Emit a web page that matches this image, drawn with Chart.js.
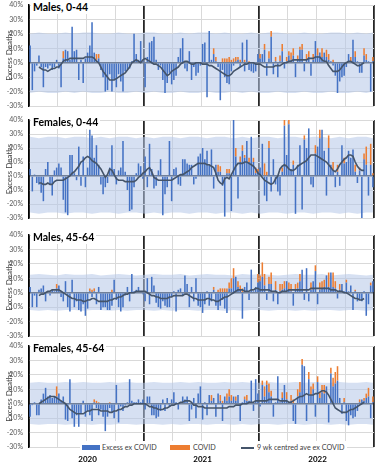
<!DOCTYPE html>
<html>
<head>
<meta charset="utf-8">
<script src="https://cdn.jsdelivr.net/npm/chart.js@4.4.1/dist/chart.umd.min.js"></script>
<style>
  html, body { margin: 0; padding: 0; background: #fff; }
  #wrap { position: relative; width: 381px; height: 476px; overflow: hidden; font-family: Lato, 'Liberation Sans', sans-serif; }
  canvas { position: absolute; left: 0; }
  .ttl { position: absolute; left: 31px; font-weight: 700; font-size: 10.5px; line-height: 11px; background: #fff; padding: 1px 2px; color: #000; }
  .legend { position: absolute; left: 80px; top: 441px; width: 267px; height: 12px; background: #fff; font-size: 7.2px; color: #404040; }
  .legend span { position: absolute; white-space: nowrap; line-height: 10px; }
</style>
</head>
<body>
<div id="wrap">
  <canvas id="p1" width="381" height="112" style="top:0"></canvas>
  <canvas id="p2" width="381" height="110" style="top:114px"></canvas>
  <canvas id="p3" width="381" height="113" style="top:229px"></canvas>
  <canvas id="p4" width="381" height="136" style="top:340px"></canvas>
  <div class="ttl" style="top:1px">Males, 0-44</div>
  <div class="ttl" style="top:116px">Females, 0-44</div>
  <div class="ttl" style="top:231px">Males, 45-64</div>
  <div class="ttl" style="top:342px">Females, 45-64</div>
  <div class="legend">
    <span style="left:2px;top:4px;width:18px;height:5px;background:#4472C4"></span>
    <span style="left:22px;top:1.5px">Excess ex COVID</span>
    <span style="left:90px;top:4px;width:20px;height:5px;background:#ED7D31"></span>
    <span style="left:113px;top:1.5px">COVID</span>
    <span style="left:161px;top:6px;width:13px;height:1.6px;background:#44546A"></span>
    <span style="left:177px;top:1.5px">9 wk centred ave ex COVID</span>
  </div>
</div>
<script>
const n = null;
const yearLabels = ['2020', '2021', '2022'];

// weekly excess deaths ex COVID, % (2020 W1 .. 2022 W52)
const m044Ex = [
  12,-19,-6,-2,5,-3,-17,-3,-4,-2, -5,-3,2,-4,-17,3,9,8,2,25, 8,9,-12,2,-14,3,7,12,28,7, 2,3,-5,-10,-20,-19,-8,-20,-12,-17, -8,-13,-20,-6,-5,-4,1,20,6,2, 15,1,
  -17,4,14,15,18,2,-5,-2,-12,-21, -14,-7,-15,-12,-9,4,10,17,-4,-6, 8,-12,-3,-9,-7,-2,13,14,-24,22, 2,6,1,-3,-26,-5,-10,-14,-15,-6, -2,1,2,-3,14,-6,16,-5,-6,-7, -6,6,
  3,6,9,-9,3,18,-8,1,-10,1, 8,-4,1,5,2,5,-10,2,9,9, -6,2,4,-9,2,15,5,7,4,7, 4,2,1,-2,-9,-21,-13,-10,-9,-3, 6,1,16,4,1,-7,-7,5,2,1, -20,1
];
const m044Covid = [
  0,0,0,0,0,0,0,0,0,0, 0,0,0,0,0,5,0,0,0,0, 0,0,0,0,0,0,0,0,0,0, 4,3,0,0,0,0,0,0,0,0, 0,0,0,0,0,0,0,0,0,0, 0,0,
  0,0,0,0,0,0,0,0,0,0, 0,0,0,0,0,0,0,0,0,0, 0,0,0,0,0,0,0,0,0,0, 0,4,3,0,0,3,3,3,4,2, 3,3,2,2,0,2,0,1,0,0, 0,0,
  3,0,4,0,5,4,0,3,0,4, 5,0,3,3,5,5,0,3,2,4, 0,4,4,0,4,0,5,0,6,0, 5,4,0,2,0,0,0,0,0,0, 0,3,0,4,0,0,0,5,4,0, 0,3
];
const m044Avg = [
  n,n,n,n,-3,-4,-5,-5,-6,-5, -4,-4,-3,-3,-1,1,2,2,3,3, 3,3,3,3,3,4,4,4,4,3, 1,0,-3,-6,-8,-10,-12,-12,-12,-11, -10,-9,-8,-7,-5,-3,0,1,2,1, 0,2,
  3,2,1,0,-1,-1,-2,-3,-5,-7, -9,-8,-6,-5,-4,-3,-1,0,1,1, 0,-1,-1,0,0,0,-1,-1,-1,-2, -2,-3,-4,-5,-6,-7,-8,-9,-9,-8, -6,-5,-4,-3,-2,-1,-1,0,0,0, -1,-1,
  -1,-2,-3,-3,-3,-3,-3,-2,-2,-2, -1,0,0,1,1,2,2,2,2,2, 2,2,3,3,3,4,4,4,2,1, 1,-2,-4,-6,-6,-6,-5,-3,-1,0, 1,1,0,-1,-2,-2,-1,0,n,n, n,n
];

const f044Ex = [
  5,-11,1,-5,-6,-12,-18,5,10,-6, -14,4,6,9,6,-17,-26,-28,15,15, 2,-3,21,-7,14,-8,6,33,29,13, 22,8,-6,-13,-8,-5,6,22,5,-6, 4,6,25,3,-10,-25,-24,-8,2,9, 7,-2,
  14,-8,23,5,-9,-7,4,12,-28,-13, -8,25,-18,5,6,-6,-7,12,12,9, 8,8,-6,-2,14,16,20,12,18,8, 19,-9,8,3,3,-7,-29,2,2,-25, 40,14,-16,10,18,13,25,10,28,10, 2,3,
  6,23,-14,-18,20,-11,12,-6,-11,-14, 3,36,15,37,5,8,-27,8,22,-24, 26,20,34,-6,-8,16,21,27,33,18, -14,20,8,4,-8,3,-7,22,9,10, 18,13,19,3,-5,4,-31,12,8,-14, 8,-8
];
const f044Covid = [
  0,0,0,0,0,0,0,0,0,0, 0,0,0,0,0,0,0,0,0,0, 0,0,0,0,0,0,0,0,0,0, 0,0,0,0,0,0,0,0,0,0, 0,0,0,0,0,0,0,0,0,0, 0,0,
  0,0,0,0,0,0,0,0,0,0, 0,0,0,0,0,0,0,0,0,0, 0,0,0,0,0,0,0,0,0,0, 0,0,0,5,4,0,0,3,3,0, 0,6,0,4,4,2,0,3,0,3, 4,2,
  0,0,9,3,5,0,0,0,0,0, 3,4,0,4,0,3,0,0,0,0, 3,0,0,0,0,6,0,6,0,0, 0,9,0,6,0,5,0,0,4,0, 0,0,0,5,0,2,0,4,13,0, 15,2
];
const f044Avg = [
  n,n,n,n,-5,-5,-6,-6,-5,-6, -6,-4,-3,-3,-3,-3,-2,-1,0,2, 3,5,7,10,11,13,14,13,11,10, 9,7,5,2,-1,1,5,4,1,-2, -3,-3,-3,-4,-4,-4,-4,-4,-3,-1, 0,2,
  3,5,6,3,-1,-2,-3,-3,-3,-3, -3,-3,-3,-2,-1,0,1,1,2,3, 4,6,7,8,9,9,9,9,8,8, 7,6,2,-3,-5,-6,-2,-1,-2,1, 4,7,9,9,9,10,10,9,8,7, 5,2,
  1,-1,-3,-4,-5,-6,-5,-2,0,5, 7,8,7,5,4,4,5,7,8,9, 10,11,13,15,15,15,14,13,12,11, 10,8,6,4,3,5,8,10,12,13, 15,15,14,10,7,5,4,4,n,n, n,n
];

const m4564Ex = [
  4,-10,-2,-10,2,3,5,-6,1,-2, 2,1,3,5,-3,-6,8,-10,-13,9, -10,-6,-12,-13,-8,-16,-11,1,-3,1, -8,4,-12,-10,-10,-12,-12,-9,9,-5, -10,-13,-10,-2,4,-6,13,1,2,4, 1,-1,
  -6,10,-8,11,5,-7,-10,-11,-6,-9, -10,-10,-3,1,-13,2,3,-2,12,6, -10,4,-6,10,-9,-10,-14,-8,1,-9, -6,2,-9,-12,-9,-5,-11,-14,3,3, 10,11,4,2,-18,4,7,-5,16,1, 4,7,
  8,11,5,-5,6,6,-6,2,-8,1, 2,3,8,2,1,-9,2,3,8,16, -5,17,-6,2,8,15,-8,2,3,4, 12,4,14,4,3,-4,2,6,1,7, 1,5,-12,1,-6,-5,-6,1,-16,-8, 5,8
];
const m4564Covid = [
  0,0,0,0,0,0,0,0,0,0, 0,0,3,0,0,0,0,0,0,0, 0,0,0,0,0,0,0,2,2,2, 0,0,0,0,0,0,0,2,0,0, 0,0,0,0,0,0,0,0,0,0, 0,0,
  0,0,0,0,0,0,0,0,0,0, 0,0,0,0,0,0,0,0,0,0, 0,0,0,0,0,0,0,0,0,0, 0,2,0,2,3,3,3,3,4,7, 7,0,4,3,3,0,0,0,0,0, 0,6,
  4,10,8,0,5,8,0,6,0,5, 4,5,0,5,5,0,4,4,5,0, 0,0,0,5,0,4,0,5,5,5, 0,10,0,10,5,0,4,0,0,2, 0,0,0,1,0,0,0,0,0,0, 2,0
];
const m4564Avg = [
  n,n,n,n,-2,-1,-1,0,1,1, 2,2,2,2,1,0,-1,-2,-3,-4, -4,-5,-5,-5,-6,-6,-5,-5,-4,-4, -5,-6,-6,-6,-6,-6,-5,-5,-4,-4, -3,-3,-2,-1,-1,0,0,0,1,1, 1,1,
  1,0,-1,-2,-2,-3,-3,-4,-4,-4, -4,-3,-3,-2,-2,-2,-2,-2,-1,-1, -2,-3,-4,-4,-5,-5,-5,-5,-4,-4, -5,-5,-6,-6,-5,-4,-3,-3,-2,-1, 0,1,2,2,2,1,1,1,2,2, 3,3,
  2,2,2,2,2,1,1,1,0,0, 1,1,1,2,2,2,2,2,2,2, 2,2,2,3,3,3,3,3,3,3, 3,3,2,2,2,1,1,1,0,0, -1,-2,-3,-4,-4,-5,-5,-4,n,n, n,n
];

const f4564Ex = [
  -9,-1,1,-8,-8,3,7,11,5,6, 4,5,5,7,2,5,-11,-12,17,-10, -16,-8,-16,-7,2,-9,-5,-8,-12,1, -3,-8,-4,-9,-19,-9,-3,-6,-10,13, -13,-2,-5,-1,1,17,2,1,1,3, 1,3,
  -4,5,5,-8,-8,-10,-9,-5,3,-5, 4,-2,3,8,1,-4,1,5,3,5, -12,-4,4,-10,7,12,-11,1,-8,6, 2,4,-9,7,2,-12,5,2,5,2, 5,2,6,-12,1,3,2,2,16,-5, 17,7,
  -2,13,5,13,8,5,-9,1,19,1, 4,13,3,1,2,-12,-14,5,8,27, 26,-12,17,6,10,-9,15,4,8,7, 12,-13,21,12,14,16,4,-7,1,-12, -15,-8,-10,-9,-5,1,3,2,4,5, -10,1
];
const f4564Covid = [
  0,0,0,0,0,0,0,0,0,0, 0,0,7,0,0,0,0,0,0,0, 0,0,0,0,0,0,0,0,0,2, 2,1,0,0,0,0,1,0,0,0, 0,0,0,0,0,0,0,0,0,0, 0,0,
  0,0,0,0,0,0,0,0,0,0, 0,0,0,0,0,0,0,0,0,0, 0,0,0,0,0,0,0,0,0,0, 4,0,0,0,4,2,0,5,5,4, 0,3,0,0,0,2,4,0,0,0, 0,0,
  0,3,7,3,6,4,0,0,0,0, 4,0,5,0,4,3,0,5,7,4, 0,0,5,6,4,0,4,4,5,6, 0,0,4,6,8,10,0,0,3,0, 0,0,0,0,0,2,0,2,3,6, 0,4
];
const f4564Avg = [
  n,n,n,n,0,1,2,3,4,5, 5,5,4,3,2,1,0,-2,-4,-5, -6,-7,-7,-7,-7,-6,-5,-5,-4,-4, -4,-4,-5,-5,-5,-5,-6,-6,-5,-5, -4,-4,-3,-2,-2,-1,-1,0,0,0, 0,0,
  0,-1,-2,-2,-3,-3,-4,-4,-4,-3, -3,-2,-1,-1,0,0,1,1,2,2, 2,1,-1,-1,-2,-2,-2,-3,-3,-3, -3,-3,-3,-3,-3,-3,-3,-3,-2,-2, -2,-1,-1,-1,0,0,0,1,1,1, 2,2,
  2,2,2,2,3,3,3,3,3,2, 2,2,2,1,1,2,3,4,5,5, 6,7,6,6,6,7,7,8,9,9, 8,6,3,0,-3,-4,-5,-6,-6,-6, -5,-4,-4,-3,-2,-1,0,1,n,n, n,n
];

// expected range band, read every 4th week (plus the last week)
const m044Hi = [20,21,20,20,21,20,21,21,20,20,21,20,20,21,21,20,20,21,20,21,21,20,21,20,20,21,20,21,21,20,20,21,20,20,21,21,20,21,20,21];
const m044Lo = [-21,-20,-21,-21,-20,-21,-20,-21,-21,-20,-21,-21,-20,-21,-20,-21,-21,-20,-21,-21,-20,-21,-21,-20,-21,-20,-21,-21,-20,-21,-21,-20,-21,-21,-20,-21,-21,-20,-21,-20];
const f044Hi = [28,27,28,28,27,28,28,27,28,27,28,28,27,28,27,28,28,27,28,28,27,28,28,27,28,27,28,28,27,28,28,27,28,28,27,28,27,28,28,27];
const f044Lo = [-26,-27,-26,-26,-27,-26,-26,-27,-26,-26,-27,-26,-26,-27,-26,-27,-26,-26,-27,-26,-26,-27,-26,-26,-27,-26,-27,-26,-26,-27,-26,-26,-27,-26,-26,-27,-26,-27,-26,-26];
const m4564Hi = [12.5,13,12.5,12,13,12.5,12.5,13,12,12.5,13,12.5,12,12.5,13,12.5,12.5,13,12,12.5,13,12.5,12.5,12,13,12.5,13,12.5,12,12.5,13,12.5,12.5,13,12,12.5,13,12.5,12,12.5];
const m4564Lo = [-12,-12.5,-12,-12.5,-12,-12,-12.5,-12,-12,-12.5,-12,-12.5,-12,-12,-12.5,-12,-12.5,-12,-12,-12.5,-12,-12,-12.5,-12,-12.5,-12,-12,-12.5,-12,-12,-12.5,-12,-12.5,-12,-12,-12.5,-12,-12,-12.5,-12];
const f4564Hi = [14.5,15,14.5,14.5,15,14.5,15,14.5,14.5,15,14.5,15,14.5,14.5,15,14.5,14.5,15,14.5,15,14.5,14.5,15,14.5,15,14.5,14.5,15,14.5,14.5,15,14.5,15,14.5,14.5,15,14.5,14.5,15,14.5];
const f4564Lo = [-14,-14.5,-14,-14,-14.5,-14,-14,-14.5,-14,-14.5,-14,-14,-14.5,-14,-14,-14.5,-14,-14.5,-14,-14,-14.5,-14,-14,-14.5,-14,-14.5,-14,-14,-14.5,-14,-14,-14.5,-14,-14,-14.5,-14,-14.5,-14,-14,-14.5];

const weeks = [];
yearLabels.forEach((y) => {
    for (let w = 1; w <= 52; w++) weeks.push(y + ' W' + w);
});

const bandWeeks = [];
for (let w = 0; w < weeks.length; w += 4) bandWeeks.push(w);
bandWeeks.push(weeks.length - 1);

function spread(knots) {
    const out = new Array(weeks.length).fill(null);
    bandWeeks.forEach((w, i) => { out[w] = knots[i]; });
    return out;
}

const FONT = 'Lato, "Liberation Sans", sans-serif';

function makePanel(id, ex, covid, avg, hi, lo, pad, showYears) {
    new Chart(document.getElementById(id), {
        type: 'bar',
        data: {
            labels: weeks,
            datasets: [
                {
                    label: 'Excess ex COVID',
                    data: ex,
                    backgroundColor: '#4472C4',
                    stack: 'deaths',
                    order: 5,
                    barPercentage: 0.7,
                    categoryPercentage: 1,
                },
                {
                    label: 'COVID',
                    data: covid,
                    backgroundColor: '#ED7D31',
                    stack: 'deaths',
                    order: 5,
                    barPercentage: 0.7,
                    categoryPercentage: 1,
                },
                {
                    type: 'line',
                    label: '9 wk centred ave ex COVID',
                    data: avg,
                    borderColor: '#44546A',
                    borderWidth: 1.6,
                    pointRadius: 0,
                    tension: 0,
                    stack: 'avg',
                    order: 1,
                },
                {
                    type: 'line',
                    label: 'upper',
                    data: spread(hi),
                    borderWidth: 0,
                    borderColor: 'rgba(0,0,0,0)',
                    pointRadius: 0,
                    spanGaps: true,
                    fill: '+1',
                    backgroundColor: 'rgba(180,199,231,0.55)',
                    stack: 'hi',
                    order: 10,
                },
                {
                    type: 'line',
                    label: 'lower',
                    data: spread(lo),
                    borderWidth: 0,
                    borderColor: 'rgba(0,0,0,0)',
                    pointRadius: 0,
                    spanGaps: true,
                    fill: false,
                    stack: 'lo',
                    order: 10,
                },
            ],
        },
        options: {
            responsive: false,
            animation: false,
            events: [],
            layout: { padding: pad },
            plugins: {
                legend: { display: false },
                tooltip: { enabled: false },
            },
            scales: {
                x: {
                    stacked: true,
                    offset: true,
                    afterFit: (s) => {
                        s.height = showYears ? 18 : 0;
                        s.paddingLeft = 0;
                        s.paddingRight = 0;
                    },
                    border: { display: false },
                    grid: {
                        offset: true,
                        drawTicks: false,
                        tickLength: 0,
                        color: (c) => {
                            if (c.index === undefined || c.index % 52 === 0) return '#262626';
                            return c.index % 13 === 0 ? '#d9d9d9' : 'rgba(0,0,0,0)';
                        },
                        lineWidth: (c) => (c.index === undefined || c.index % 52 === 0) ? 1.8 : 1,
                    },
                    ticks: {
                        display: showYears,
                        autoSkip: false,
                        maxRotation: 0,
                        minRotation: 0,
                        padding: 8,
                        color: '#000',
                        font: { family: FONT, size: 8, weight: 'bold' },
                        callback: (v, i) => (i % 52 === 26 ? yearLabels[Math.floor(i / 52)] : ''),
                    },
                },
                y: {
                    stacked: true,
                    min: -30,
                    max: 40,
                    afterFit: (s) => {
                        s.width = 29;
                        s.paddingTop = 0;
                        s.paddingBottom = 0;
                    },
                    border: { display: true, color: '#000', width: 1.5 },
                    grid: {
                        drawTicks: false,
                        tickLength: 0,
                        color: (c) => (c.tick && c.tick.value === 0 ? '#1f2b3a' : '#d9d9d9'),
                        lineWidth: (c) => (c.tick && c.tick.value === 0 ? 1.5 : 1),
                    },
                    ticks: {
                        stepSize: 10,
                        padding: 6,
                        color: '#595959',
                        font: { family: FONT, size: 7 },
                        callback: (v) => v + '%',
                    },
                    title: {
                        display: true,
                        text: 'Excess Deaths',
                        color: '#404040',
                        font: { family: FONT, size: 8 },
                        padding: { top: 5, bottom: 0 },
                    },
                },
            },
        },
    });
}

makePanel('p1', m044Ex, m044Covid, m044Avg, m044Hi, m044Lo, { top: 5, bottom: 6, left: 0, right: 7 }, false);
makePanel('p2', f044Ex, f044Covid, f044Avg, f044Hi, f044Lo, { top: 6, bottom: 6, left: 0, right: 7 }, false);
makePanel('p3', m4564Ex, m4564Covid, m4564Avg, m4564Hi, m4564Lo, { top: 6, bottom: 6, left: 0, right: 7 }, false);
makePanel('p4', f4564Ex, f4564Covid, f4564Avg, f4564Hi, f4564Lo, { top: 6, bottom: 11, left: 0, right: 7 }, true);
</script>
</body>
</html>
